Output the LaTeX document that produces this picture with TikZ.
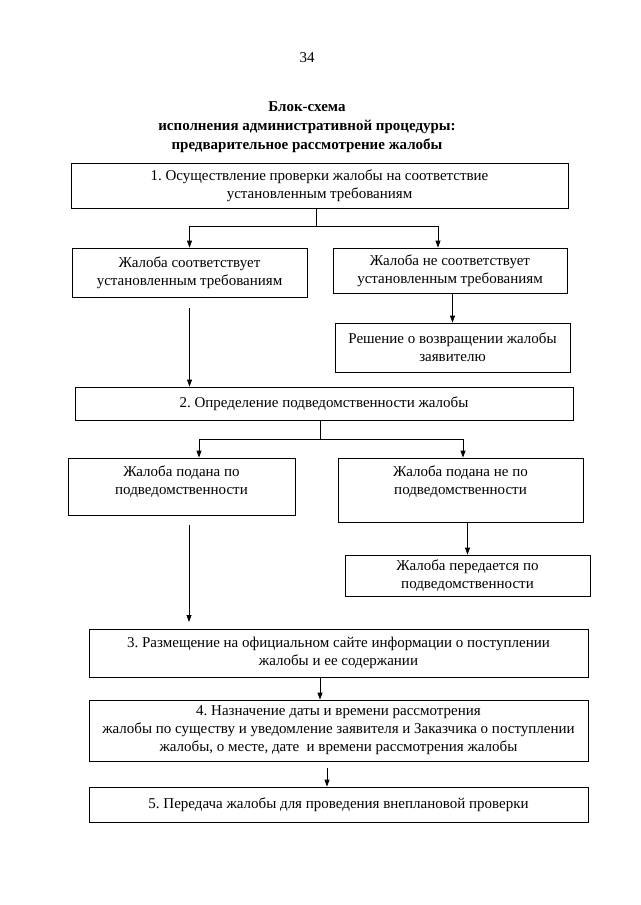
\documentclass[tikz,border=0pt]{standalone}
\usepackage{fontspec}
\setmainfont{Liberation Serif}
\usetikzlibrary{arrows.meta}
\frenchspacing
\begin{document}
\begin{tikzpicture}[x=1pt,y=-1pt,
  txt/.style={font=\fontsize{15}{18}\selectfont},
  box/.style={draw, line width=0.8pt, align=center, inner sep=0pt, txt},
  conn/.style={line width=0.8pt},
  arr/.style={conn, -{Triangle[length=7pt,width=5pt]}}]
\useasboundingbox (0,0) rectangle (640,905);
\fill[white] (0,0) rectangle (640,905);
\node[txt] (pg) at (307,58) {34};
\node[align=center, font=\bfseries\fontsize{15}{19}\selectfont] (title) at (307,127)
  {Блок-схема\\исполнения административной процедуры:\\предварительное рассмотрение жалобы};

\node[box, minimum width=497pt, minimum height=45pt] (B1) at (319.5,185.5)
  {1. Осуществление проверки жалобы на соответствие\\установленным требованиям};
\node[box, minimum width=235pt, minimum height=49pt] (A) at (189.5,272.5)
  {Жалоба соответствует\\установленным требованиям};
\node[box, minimum width=234pt, minimum height=45pt] (Bn) at (450,270.5)
  {Жалоба не соответствует\\установленным требованиям};
\node[box, minimum width=235pt, minimum height=49pt] (R) at (452.5,347.5)
  {Решение о возвращении жалобы\\заявителю};
\node[box, minimum width=498pt, minimum height=33pt] (B2) at (324,403.5)
  {2. Определение подведомственности жалобы};
\node[box, minimum width=227pt, minimum height=57pt,
  label={[txt, align=center, anchor=north, yshift=-5pt]north:Жалоба подана по\\подведомственности}] (P) at (181.5,486.5) {};
\node[box, minimum width=245pt, minimum height=64pt,
  label={[txt, align=center, anchor=north, yshift=-5pt]north:Жалоба подана не по\\подведомственности}] (Pn) at (460.5,490) {};
\node[box, minimum width=245pt, minimum height=41pt] (T) at (467.5,575.5)
  {Жалоба передается по\\подведомственности};
\node[box, minimum width=499pt, minimum height=48pt] (B3) at (338.5,653)
  {3. Размещение на официальном сайте информации о поступлении\\жалобы и ее содержании};
\node[box, minimum width=499pt, minimum height=61pt] (B4) at (338.5,730.5)
  {4. Назначение даты и времени рассмотрения\\жалобы по существу и уведомление заявителя и Заказчика о поступлении\\жалобы, о месте, дате\ \ и времени рассмотрения жалобы};
\node[box, minimum width=499pt, minimum height=35pt] (B5) at (338.5,804.5)
  {5. Передача жалобы для проведения внеплановой проверки};

\coordinate (j1) at (316,226);
\coordinate (j1r) at (438,226);
\coordinate (j2) at (320,439);
\coordinate (j2l) at (199,439);
\coordinate (j2r) at (463,439);
\coordinate (e1) at (189,622);
\coordinate (x320) at (320,0);
\coordinate (x327) at (327,0);

\draw[conn] (B1.south -| j1) -- (j1);
\draw[arr] (j1) -| (A.north);
\draw[arr] (j1) -- (j1r) -- (j1r |- Bn.north);
\draw[arr] (Bn.south -| R.north) -- (R.north);
\draw[arr, shorten <=11pt] (A.south) -- (A.south |- B2.north);

\draw[conn] (B2.south -| j2) -- (j2);
\draw[arr] (j2) -- (j2l) -- (j2l |- P.north);
\draw[arr] (j2) -- (j2r) -- (j2r |- Pn.north);
\draw[arr] (Pn.south -| T.north) -- (T.north);
\draw[arr, shorten <=10pt] (P.south -| e1) -- (e1);

\draw[arr] (B3.south -| x320) -- (B4.north -| x320);
\draw[arr, shorten <=7pt] (B4.south -| x327) -- (B5.north -| x327);
\end{tikzpicture}
\end{document}
